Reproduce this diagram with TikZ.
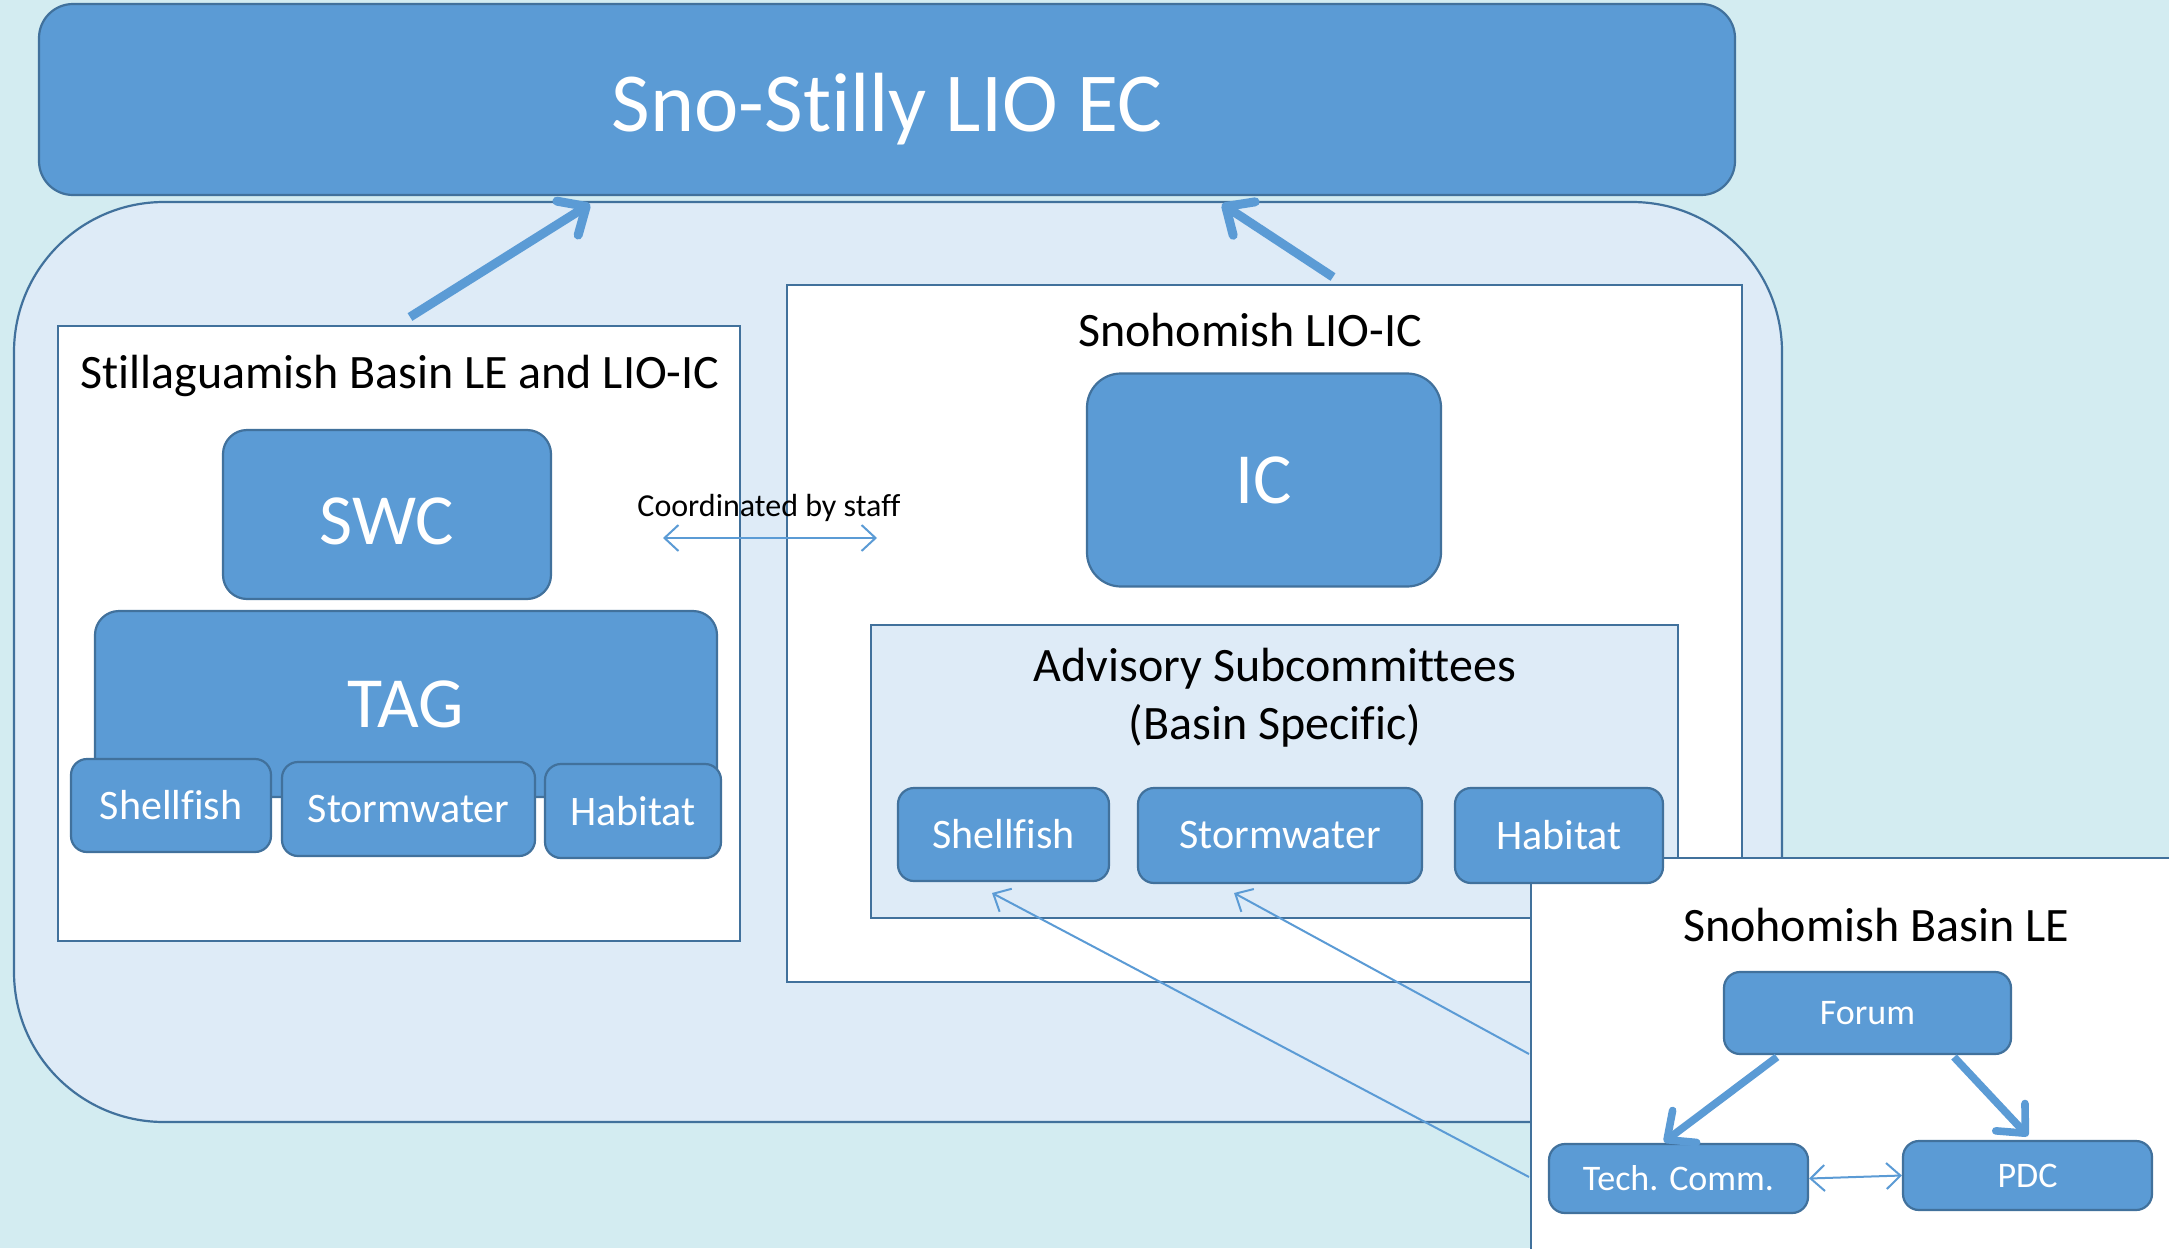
\documentclass[tikz,border=0pt]{standalone}
\usepackage{fontspec}
\setmainfont{Carlito}[Ligatures=NoCommon]
\usetikzlibrary{arrows.meta}

\definecolor{boxblue}{HTML}{5B9BD5}
\definecolor{edgeblue}{HTML}{41719C}
\definecolor{paleblue}{HTML}{DEEBF7}
\definecolor{waterbg}{HTML}{D3ECF1}

\begin{document}
\begin{tikzpicture}[
    x=0.5pt, y=-0.5pt,
    bluebox/.style={draw=edgeblue, fill=boxblue, line width=1.1pt, rounded corners=8pt, text=white, inner sep=0pt},
    framebox/.style={draw=edgeblue, fill=white, line width=1.3pt, inner sep=0pt},
    title/.style={font=\fontsize{24}{29}\selectfont, align=center},
    bigarrow/.style={-{Straight Barb[length=11pt, width=20pt, round]}, line width=4.5pt, boxblue},
    linkarrow/.style={-{Straight Barb[length=7pt, width=13pt]}, line width=1pt, boxblue},
    twoway/.style={{Straight Barb[length=7pt, width=13pt]}-{Straight Barb[length=7pt, width=13pt]}, line width=1pt, boxblue}
]
    % Background
    \useasboundingbox (0,0) rectangle (2169,1248);
    \clip (0,0) rectangle (2169,1248);
    \fill[waterbg] (0,0) rectangle (2169,1248);

    % Executive committee
    \node[bluebox, rounded corners=17pt, minimum width=848pt, minimum height=95.5pt] (ec) at (887,99.5) {};
    \node[text=white, font=\fontsize{42}{50}\selectfont] (ecT) at (887,109) {Sno-Stilly LIO EC};

    % Shared region
    \node[draw=edgeblue, fill=paleblue, line width=1.1pt, rounded corners=75pt,
          minimum width=884pt, minimum height=460pt] (region) at (898,662) {};

    % Stillaguamish side
    \node[framebox, minimum width=341pt, minimum height=307.5pt] (stilla) at (399,633.5) {};
    \node[title] (stillaT) at (400,376) {Stillaguamish Basin LE and LIO-IC};
    \node[bluebox, rounded corners=12pt, minimum width=164pt, minimum height=84.5pt] (swc) at (387,514.5) {};
    \node[text=white, font=\fontsize{36}{40}\selectfont] (swcT) at (387,521) {SWC};
    \node[bluebox, rounded corners=12pt, minimum width=311pt, minimum height=93pt,
          font=\fontsize{36}{40}\selectfont] (tag) at (406,704) {TAG};
    \node[bluebox, minimum width=100pt, minimum height=46.5pt, font=\fontsize{21}{25}\selectfont]
          (shellS) at (171,805.5) {Shellfish};
    \node[bluebox, minimum width=126.5pt, minimum height=47pt, font=\fontsize{21}{25}\selectfont]
          (stormS) at (408.5,809) {Stormwater};
    \node[bluebox, minimum width=88pt, minimum height=47pt, font=\fontsize{21}{25}\selectfont]
          (habS) at (633,811) {Habitat};

    % Snohomish side
    \node[framebox, minimum width=477.5pt, minimum height=348.5pt] (snoic) at (1264.5,633.5) {};
    \node[title] (snoicT) at (1250,330) {Snohomish LIO-IC};
    \node[bluebox, rounded corners=17pt, minimum width=177pt, minimum height=106.5pt,
          font=\fontsize{36}{40}\selectfont] (ic) at (1264,480) {IC};
    \node[draw=edgeblue, fill=paleblue, line width=1.1pt, inner sep=0pt,
          minimum width=403.5pt, minimum height=146.5pt] (advis) at (1274.5,771.5) {};
    \node[title] (advisT) at (1275,698) {Advisory Subcommittees\\(Basin Specific)};

    % Snohomish Basin LE
    \node[framebox, minimum width=334.5pt, minimum height=216pt] (basin) at (1865.5,1074) {};
    \node[title] (basinT) at (1876,925) {Snohomish Basin LE};
    \node[bluebox, minimum width=143.5pt, minimum height=41pt, font=\fontsize{18}{22}\selectfont]
          (forum) at (1867.5,1013) {Forum};
    \node[bluebox, minimum width=129.5pt, minimum height=34.5pt, font=\fontsize{18}{22}\selectfont]
          (tech) at (1678.5,1178.5) {Tech. Comm.};
    \node[bluebox, minimum width=124.5pt, minimum height=34.5pt, font=\fontsize{18}{22}\selectfont]
          (pdc) at (2027.5,1175.5) {PDC};

    % Subcommittees
    \node[bluebox, minimum width=105.5pt, minimum height=46.5pt, font=\fontsize{21}{25}\selectfont]
          (shellN) at (1003.5,834.5) {Shellfish};
    \node[bluebox, minimum width=142pt, minimum height=47.5pt, font=\fontsize{21}{25}\selectfont]
          (stormN) at (1280,835.5) {Stormwater};
    \node[bluebox, minimum width=104pt, minimum height=47.5pt, font=\fontsize{21}{25}\selectfont]
          (habN) at (1559,835.5) {Habitat};

    % Coordination
    \node[font=\fontsize{16}{19}\selectfont] (staff) at (769,508) {Coordinated by staff};
    \coordinate (staffL) at (663,538);
    \coordinate (staffR) at (877,538);
    \draw[twoway] (staffL) -- (staffR);

    % Reporting arrows
    \coordinate (stillaOut) at (410,317);
    \coordinate (ecInL) at (590,204);
    \coordinate (snoOut) at (1333,277);
    \coordinate (ecInR) at (1222,204);
    \draw[bigarrow] (stillaOut) -- (ecInL);
    \draw[bigarrow] (snoOut) -- (ecInR);

    % Basin LE links
    \coordinate (techOut) at (1529,1177);
    \coordinate (shellIn) at (992,893);
    \coordinate (pdcOut) at (1529,1054);
    \coordinate (stormIn) at (1234,893);
    \draw[linkarrow] (techOut) -- (shellIn);
    \draw[linkarrow] (pdcOut) -- (stormIn);

    \coordinate (forumL) at (1777,1057);
    \coordinate (forumR) at (1954,1057);
    \coordinate (techIn) at (1664,1142);
    \coordinate (pdcIn) at (2028,1136);
    \draw[bigarrow, line width=3.8pt] (forumL) -- (techIn);
    \draw[bigarrow, line width=3.8pt] (forumR) -- (pdcIn);
    \draw[twoway] (tech.east) -- (pdc.west);
\end{tikzpicture}
\end{document}
